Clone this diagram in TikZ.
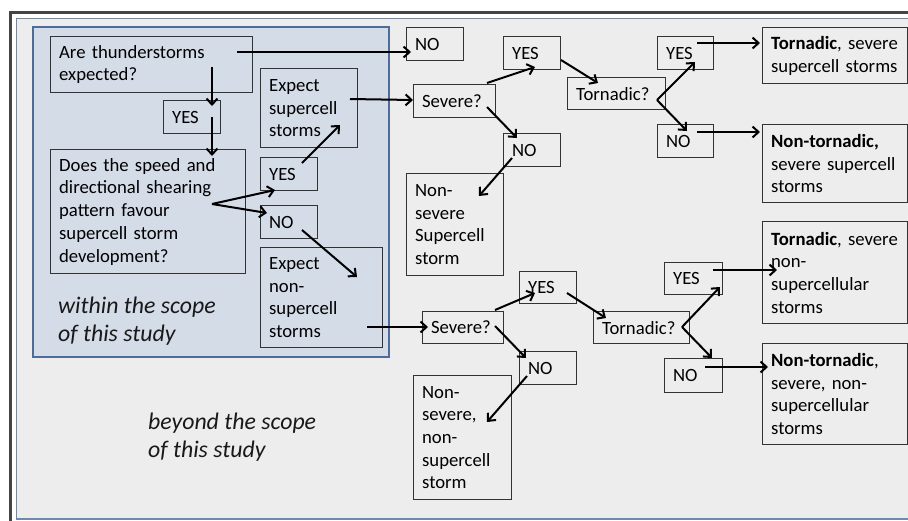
\documentclass[tikz,border=0pt]{standalone}
\usepackage{fontspec}
\setmainfont{Carlito}
\usetikzlibrary{arrows.meta,calc}
\definecolor{boxc}{HTML}{333333}
\definecolor{panelfill}{HTML}{EDEDED}
\definecolor{paneldraw}{HTML}{7088AA}
\definecolor{bluefill}{HTML}{D4DCE7}
\definecolor{bluedraw}{HTML}{4D6C9C}
\definecolor{framec}{HTML}{444444}
\newcommand\mbx[1]{\mbox{#1}}
\newcommand\arw[4]{\draw[arr] ($(#1.north west)+#2$) -- ($(#3.north west)+#4$);}
\begin{document}
\begin{tikzpicture}[x=1pt,y=-1pt,
  bx/.style 2 args={draw=boxc, line width=1.3pt, inner xsep=8.5pt, inner ysep=0pt,
    anchor=north west, align=left, minimum width=#1pt, minimum height=#2pt,
    /utils/exec={\pgfmathsetmacro\tw{#1-17}}, text width=\tw pt,
    font=\fontsize{18.7}{22.7}\selectfont, text=black},
  arr/.style={line width=2pt, -{Straight Barb[length=6pt,width=11pt]}},
  scopetext/.style={align=left, inner sep=0pt, font=\fontsize{23.8}{28}\selectfont\itshape, text=black!90}
]
\useasboundingbox (0,0) rectangle (908,520);
\fill[white] (0,0) rectangle (908,520);
\draw[framec, line width=3pt] (10,12.5) rectangle (940,545);
\draw[paneldraw, fill=panelfill, line width=1.5pt] (16.5,18.5) rectangle (940,519);
\draw[bluedraw, fill=bluefill, line width=2pt] (33,27) rectangle (389,357);

% left column
\node[bx={202}{56}] (q1) at (50,36) {\mbx{Are thunderstorms}\\expected?};
\node[bx={57}{33}] (y1) at (163,100) {YES};
\node[bx={195}{124}] (q2) at (50,149) {\mbx{Does the speed and}\\\mbx{directional shearing}\\\mbx{pattern favour}\\\mbx{supercell storm}\\development?};
\node[bx={97}{79}] (es) at (260,68) {Expect\\supercell\\storms};
\node[bx={57}{33}] (y2) at (260,157) {YES};
\node[bx={57}{33}] (n2) at (260,205) {NO};
\node[bx={122}{100}] (en) at (260,247) {Expect\\non-\\supercell\\storms};

% upper branch
\node[bx={57}{33}] (n1) at (406,27) {NO};
\node[bx={82}{33}] (sv1) at (413,84) {Severe?};
\node[bx={57}{33}] (y3) at (503,36) {YES};
\node[bx={57}{33}] (n3) at (503,133) {NO};
\node[bx={97}{102}] (ns1) at (406,173) {Non-\\severe\\Supercell\\storm};
\node[bx={98}{32}] (t1) at (567,77) {Tornadic?};
\node[bx={56}{33}] (y4) at (657,36) {YES};
\node[bx={56}{33}] (n4) at (657,124) {NO};
\node[bx={145}{56}] (r1) at (762,27) {\mbx{\textbf{Tornadic}, severe}\\\mbx{supercell storms}};
\node[bx={145}{78}] (r2) at (762,124) {\mbx{\textbf{Non-tornadic,}}\\\mbx{severe supercell}\\storms};

% lower branch
\node[bx={81}{32}] (sv2) at (422,311) {Severe?};
\node[bx={57}{32}] (y5) at (519,271) {YES};
\node[bx={57}{33}] (n5) at (519,351) {NO};
\node[bx={98}{124}] (ns2) at (413,375) {Non-\\severe,\\non-\\supercell\\storm};
\node[bx={96}{32}] (t2) at (593,311) {Tornadic?};
\node[bx={58}{32}] (y6) at (664,262) {YES};
\node[bx={58}{34}] (n6) at (664,358) {NO};
\node[bx={145}{102}] (r3) at (762,221) {\mbx{\textbf{Tornadic}, severe}\\non-\\supercellular\\storms};
\node[bx={145}{101}] (r4) at (762,343) {\mbx{\textbf{Non-tornadic},}\\\mbx{severe, non-}\\supercellular\\storms};

% scope labels
\node[scopetext, anchor=west] (within) at (58,321) {within the scope\\of this study};
\node[scopetext, anchor=west] (beyond) at (148,437) {beyond the scope\\of this study};

% arrows
\arw{q1}{(187,16)}{n1}{(5,25)}
\arw{q1}{(162,31)}{y1}{(49,6)}
\arw{y1}{(49,17)}{q2}{(162,7)}
\arw{es}{(90,31)}{sv1}{(0,16)}
\arw{y2}{(42,6)}{es}{(80,57)}
\arw{q2}{(162,55)}{y2}{(15,33)}
\arw{q2}{(162,55)}{n2}{(7,8)}
\arw{n2}{(42,25)}{en}{(97,30)}
\arw{en}{(107,80)}{sv2}{(6,16)}
\arw{sv1}{(74,-1)}{y3}{(32,31)}
\arw{sv1}{(74,23)}{n3}{(14,5)}
\arw{n3}{(9,25)}{ns1}{(73,23)}
\arw{y3}{(58,24)}{t1}{(31,6)}
\arw{t1}{(90,23)}{y4}{(38,26)}
\arw{t1}{(90,23)}{n4}{(30,7)}
\arw{y4}{(40,7)}{r1}{(-2,16)}
\arw{n4}{(40,8)}{r2}{(-2,8)}
\arw{sv2}{(73,-1)}{y5}{(16,22)}
\arw{sv2}{(73,15)}{n5}{(7,7)}
\arw{n5}{(8,25)}{ns2}{(74,47)}
\arw{y5}{(48,22)}{t2}{(13,7)}
\arw{t2}{(89,16)}{y6}{(56,25)}
\arw{t2}{(89,16)}{n6}{(48,0)}
\arw{y6}{(49,8)}{r3}{(15,49)}
\arw{n6}{(41,9)}{r4}{(6,24)}
\end{tikzpicture}
\end{document}
